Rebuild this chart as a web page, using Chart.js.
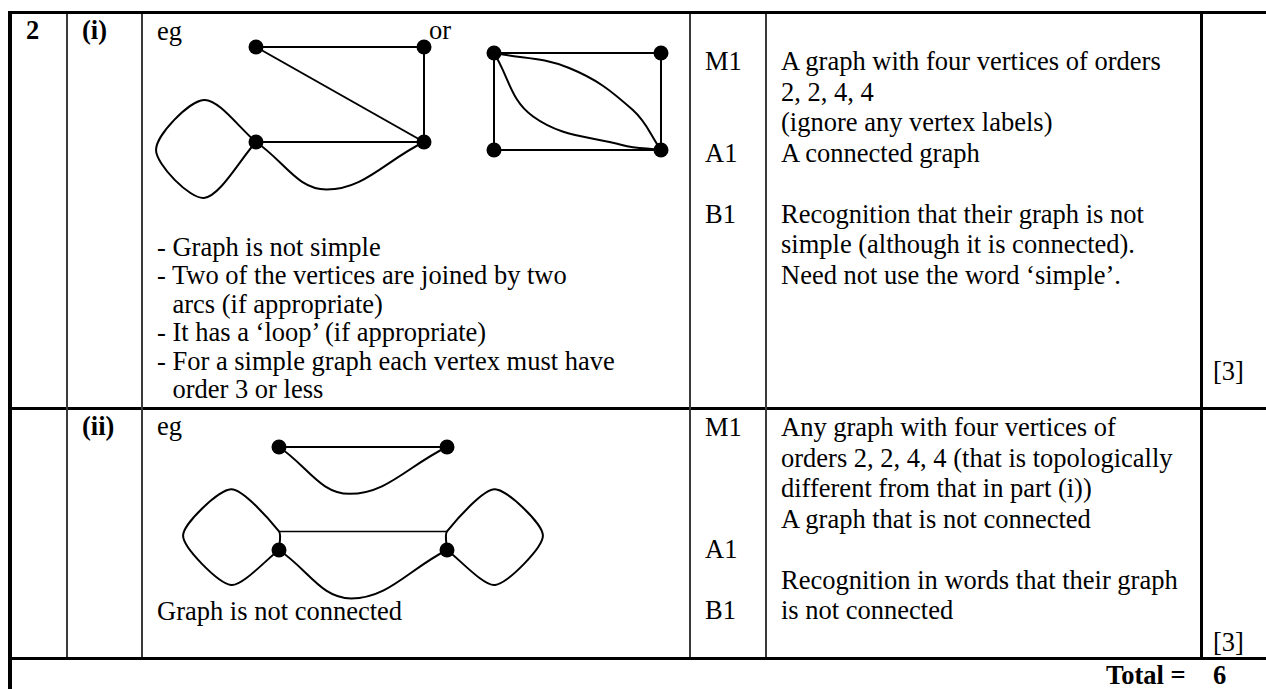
<!DOCTYPE html>
<html>
<head>
<meta charset="utf-8">
<title>Mark scheme 2</title>
<script src="https://cdn.jsdelivr.net/npm/chart.js@4.4.1/dist/chart.umd.min.js"></script>
<style>
    html, body { margin: 0; padding: 0; background: #fff; }
    body {
        width: 1266px; height: 689px; position: relative; overflow: hidden;
        font-family: "Liberation Serif", "Times New Roman", serif;
        font-size: 26.5px; color: #000;
    }
    .rule { position: absolute; background: #000; }
    .thin { background: #3a3a3a; }
    .txt { position: absolute; white-space: nowrap; line-height: 30.5px; }
    .bul { line-height: 28.4px; }
    .ind { padding-left: 0.583em; }
    .b { font-weight: bold; }
    canvas { position: absolute; }
</style>
</head>
<body>

<!-- table rules -->
<div class="rule" style="left:8px;top:11px;width:1258px;height:3px"></div>
<div class="rule" style="left:8px;top:11px;width:4px;height:678px"></div>
<div class="rule" style="left:8px;top:407px;width:1258px;height:3px"></div>
<div class="rule" style="left:8px;top:657px;width:1258px;height:3px"></div>
<div class="rule thin" style="left:66px;top:14px;width:2px;height:643px"></div>
<div class="rule thin" style="left:141px;top:14px;width:2px;height:643px"></div>
<div class="rule thin" style="left:689px;top:14px;width:2px;height:643px"></div>
<div class="rule thin" style="left:765px;top:14px;width:2px;height:643px"></div>
<div class="rule" style="left:1200px;top:14px;width:3px;height:643px"></div>

<!-- part (i) -->
<div class="txt b" style="left:26px;top:15px">2</div>
<div class="txt b" style="left:82px;top:15px">(i)</div>
<div class="txt" style="left:157px;top:16px">eg</div>
<div class="txt" style="left:429px;top:15px">or</div>
<div class="txt bul" style="left:157px;top:233px">
    - Graph is not simple<br>
    - Two of the vertices are joined by two<br>
    <span class="ind">arcs (if appropriate)</span><br>
    - It has a ‘loop’ (if appropriate)<br>
    - For a simple graph each vertex must have<br>
    <span class="ind">order 3 or less</span>
</div>
<div class="txt" style="left:705px;top:46px">M1<br><br><br>A1<br><br>B1</div>
<div class="txt" style="left:781px;top:46px">
    A graph with four vertices of orders<br>
    2, 2, 4, 4<br>
    (ignore any vertex labels)<br>
    A connected graph<br>
    <br>
    Recognition that their graph is not<br>
    simple (although it is connected).<br>
    Need not use the word ‘simple’.
</div>
<div class="txt" style="left:1213px;top:356px">[3]</div>

<!-- part (ii) -->
<div class="txt b" style="left:82px;top:411px">(ii)</div>
<div class="txt" style="left:157px;top:411px">eg</div>
<div class="txt" style="left:157px;top:596px">Graph is not connected</div>
<div class="txt" style="left:705px;top:412px">M1<br><br><br><br>A1<br><br>B1</div>
<div class="txt" style="left:781px;top:412px">
    Any graph with four vertices of<br>
    orders 2, 2, 4, 4 (that is topologically<br>
    different from that in part (i))<br>
    A graph that is not connected<br>
    <br>
    Recognition in words that their graph<br>
    is not connected
</div>
<div class="txt" style="left:1213px;top:627px">[3]</div>

<!-- total -->
<div class="txt b" style="left:1106px;top:660px">Total =</div>
<div class="txt b" style="left:1213px;top:660px">6</div>

<canvas id="graph-a"></canvas>
<canvas id="graph-b"></canvas>
<canvas id="graph-c"></canvas>

<script>
// Graph data, in vertex-spacing units (x right, y down)

// (i) first example
const aVertices = [[0, 0], [1, 0], [0, 1], [1, 1]];
const aEdges = [
    [[0, 0], [1, 0]],
    [[0, 0], [1, 1]],
    [[1, 0], [1, 1]],
    [[0, 1], [1, 1]]
];
const aArc = [[0, 1], [0.42, 1.5], [1, 1]];
const aLoop = [[0, 1], [-0.31, 0.558], [-0.595, 1.084], [-0.31, 1.589], [0, 1]];

// (i) "or" example
const bVertices = [[0, 0], [1, 0], [0, 1], [1, 1]];
const bEdges = [
    [[0, 0], [1, 0]],
    [[0, 0], [0, 1]],
    [[1, 0], [1, 1]],
    [[0, 1], [1, 1]]
];
const bArcUpper = [[0, 0], [0.45, 0.155], [0.83, 0.586], [1, 1]];
const bArcLower = [[0, 0], [0.234, 0.655], [0.766, 0.948], [1, 1]];

// (ii) example
const cVertices = [[0, 0], [1, 0], [0, 1], [1, 1]];
const cEdges = [
    [[0, 0], [1, 0]]
];
const cLink = [[0, 0.82], [1, 0.82]];
const cArcTop = [[0, 0], [0.42, 0.455], [1, 0]];
const cArcBottom = [[0, 1], [0.43, 1.47], [1, 1]];
const cLoopLeft = [[0, 1], [0, 0.82], [-0.286, 0.41], [-0.571, 0.86], [-0.286, 1.34], [0, 1]];
const cLoopRight = [[1, 1], [1, 0.82], [1.286, 0.41], [1.571, 0.86], [1.286, 1.34], [1, 1]];

// Where each drawing sits on the page (pixels)
const frames = {
    a: { left: 146, top: 30, width: 302, height: 190, originX: 256, originY: 47, unitX: 168, unitY: 95 },
    b: { left: 478, top: 36, width: 200, height: 130, originX: 494, originY: 53, unitX: 167, unitY: 97 },
    c: { left: 165, top: 425, width: 400, height: 185, originX: 279, originY: 447, unitX: 168, unitY: 103 }
};

const toXY = pts => pts.map(([x, y]) => ({ x, y }));

function curveSet(points, width, tension) {
    return {
        data: toXY(points),
        showLine: true,
        borderColor: '#000',
        borderWidth: width,
        pointRadius: 0,
        tension: tension,
        fill: false,
        clip: false
    };
}

function drawGraph(canvasId, frame, vertices, pieces) {
    const canvas = document.getElementById(canvasId);
    canvas.width = frame.width;
    canvas.height = frame.height;
    canvas.style.left = frame.left + 'px';
    canvas.style.top = frame.top + 'px';

    const datasets = pieces.slice();
    datasets.push({
        data: toXY(vertices),
        showLine: false,
        pointRadius: 7.5,
        pointBackgroundColor: '#000',
        pointBorderWidth: 0,
        clip: false
    });

    return new Chart(canvas.getContext('2d'), {
        type: 'scatter',
        data: { datasets },
        options: {
            responsive: false,
            animation: false,
            events: [],
            layout: { autoPadding: false, padding: 0 },
            scales: {
                x: {
                    type: 'linear', display: false,
                    min: (frame.left - frame.originX) / frame.unitX,
                    max: (frame.left + frame.width - frame.originX) / frame.unitX
                },
                y: {
                    type: 'linear', display: false, reverse: true,
                    min: (frame.top - frame.originY) / frame.unitY,
                    max: (frame.top + frame.height - frame.originY) / frame.unitY
                }
            },
            plugins: { legend: { display: false }, tooltip: { enabled: false } }
        }
    });
}

drawGraph('graph-a', frames.a, aVertices, [
    ...aEdges.map(e => curveSet(e, 2, 0)),
    curveSet(aArc, 2, 0.4),
    curveSet(aLoop, 2, 0.3)
]);

drawGraph('graph-b', frames.b, bVertices, [
    ...bEdges.map(e => curveSet(e, 2, 0)),
    curveSet(bArcUpper, 2, 0.4),
    curveSet(bArcLower, 2, 0.4)
]);

drawGraph('graph-c', frames.c, cVertices, [
    ...cEdges.map(e => curveSet(e, 2, 0)),
    curveSet(cLink, 1.5, 0),
    curveSet(cArcTop, 2, 0.4),
    curveSet(cArcBottom, 2, 0.4),
    curveSet(cLoopLeft, 2, 0.25),
    curveSet(cLoopRight, 2, 0.25)
]);
</script>
</body>
</html>
